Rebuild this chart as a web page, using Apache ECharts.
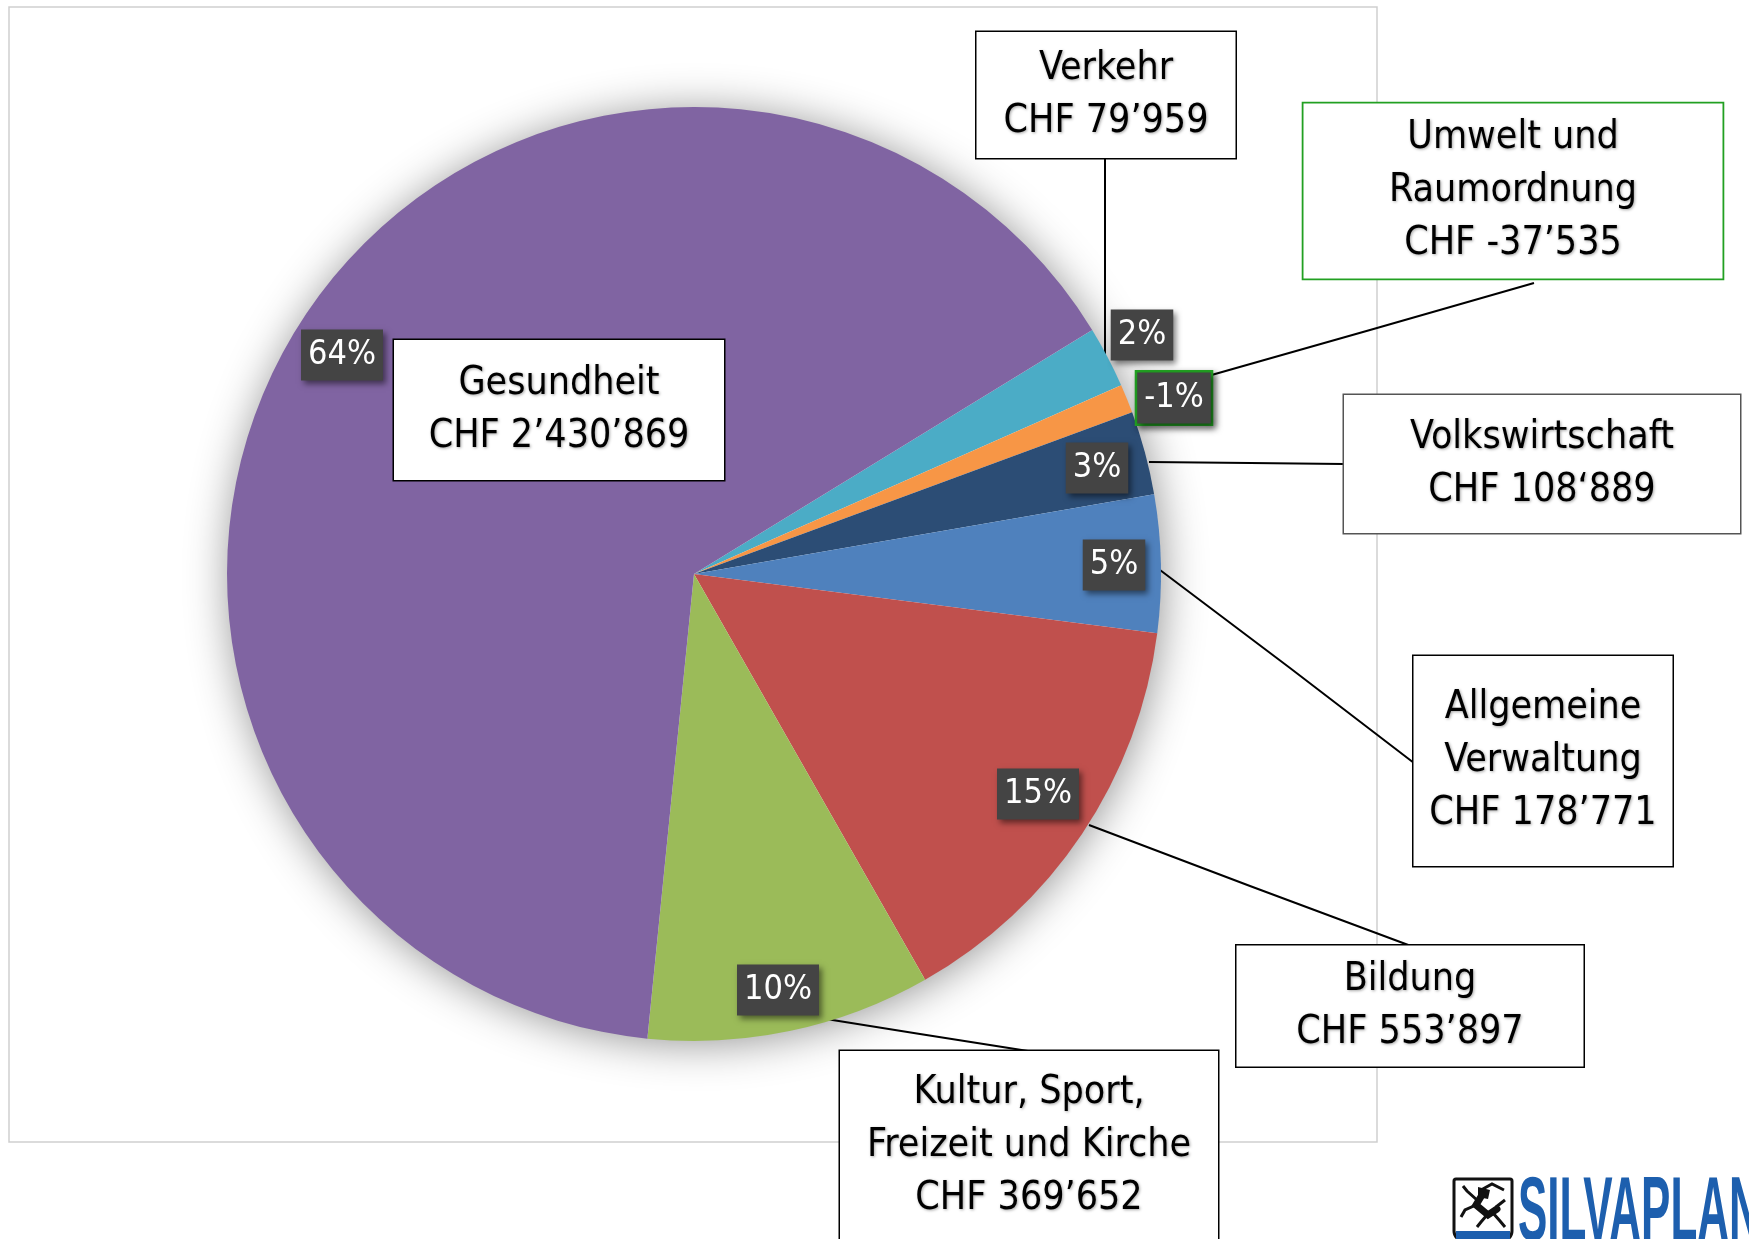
<!DOCTYPE html>
<html><head><meta charset="utf-8">
<script src="https://cdn.jsdelivr.net/npm/echarts@6/dist/echarts.min.js"></script>
<style>html,body{margin:0;padding:0;background:#fff}#c{width:1749px;height:1239px}</style>
</head><body><div id="c"></div>
<script>
// ---- data ----
var categories = ['Verkehr', 'Umwelt und\nRaumordnung', 'Volkswirtschaft', 'Allgemeine\nVerwaltung', 'Bildung', 'Kultur, Sport,\nFreizeit und Kirche', 'Gesundheit'];
var amounts = [79959, -37535, 108889, 178771, 553897, 369652, 2430869];
var amountLabels = ['CHF 79’959', 'CHF -37’535', 'CHF 108‘889', 'CHF 178’771', 'CHF 553’897', 'CHF 369’652', 'CHF 2’430’869'];
var percentLabels = ['2%', '-1%', '3%', '5%', '15%', '10%', '64%'];

// ---- styles / layout ----
var colors = ['#4BACC6', '#F79646', '#2C4D75', '#4F81BD', '#C0504D', '#9BBB59', '#8064A2'];
var FONT = "'Liberation Sans Narrow','Arial Narrow','DejaVu Sans Condensed',sans-serif";
var LINE_H = 53;
var nameBoxes = [
  {cx: 1106, cy: 95, w: 259, h: 126, n: 2, dy: 6, border: '#000', line: [[1105, 355], [1105, 300], [1105, 158]]},
  {cx: 1513, cy: 191, w: 419, h: 175, n: 3, dy: 8, border: '#22A022', line: [[1208, 376], [1370, 330], [1534, 283]]},
  {cx: 1542, cy: 464, w: 396, h: 138, n: 2, dy: 2, border: '#555', line: [[1149, 462], [1250, 463], [1344, 464]]},
  {cx: 1543, cy: 761, w: 259, h: 210, n: 3, dy: -7, border: '#000', line: [[1160, 570], [1290, 668], [1414, 763]]},
  {cx: 1410, cy: 1006, w: 347, h: 121, n: 2, dy: 9, border: '#000', line: [[1089, 825], [1250, 886], [1411, 946]]},
  {cx: 1029, cy: 1146, w: 378, h: 190, n: 3, dy: 3, border: '#000', line: [[820, 1018], [920, 1034], [1028, 1051]]},
  {cx: 559, cy: 410, w: 330, h: 140, n: 2, dy: 0, border: '#000', line: null}
];
var pctBoxes = [[1142, 335], [1174, 398], [1097, 468], [1114, 565], [1038, 794], [778, 990], [342, 355]];
var CENTER = [694, 574], RADIUS = 467, START = 31.5;

var chart = echarts.init(document.getElementById('c'), null, {renderer: 'canvas'});

var nameData = categories.map(function (c, i) {
  var b = nameBoxes[i];
  var pv = Math.max(0, (b.h - b.n * LINE_H) / 2);
  return {
    name: c,
    value: Math.abs(amounts[i]),
    itemStyle: {color: colors[i]},
    label: {width: b.w, padding: [pv + b.dy, 0, pv - b.dy, 0], borderColor: b.border, borderWidth: b.border === '#22A022' ? 1.8 : 1.5},
    labelLine: {show: !!b.line}
  };
});
var pctData = categories.map(function (c, i) {
  var d = {name: c, value: Math.abs(amounts[i]), itemStyle: {color: 'rgba(0,0,0,0)'}};
  if (amounts[i] < 0) d.label = {borderColor: '#22A022', borderWidth: 2.5};
  return d;
});

chart.setOption({
  animation: false,
  backgroundColor: '#fff',
  graphic: [
    {type: 'rect', z: 0, shape: {x: 9, y: 7, width: 1368, height: 1135}, style: {fill: 'none', stroke: '#cfcfcf', lineWidth: 1.5}},
    {type: 'circle', z: 1, shape: {cx: CENTER[0], cy: CENTER[1], r: RADIUS - 2}, style: {fill: '#fff', shadowBlur: 45, shadowColor: 'rgba(0,0,0,0.45)', shadowOffsetX: 2, shadowOffsetY: 3}},
    // logo
    {type: 'group', z: 5, children: [
      {type: 'rect', shape: {x: 1454, y: 1179, width: 58, height: 62, r: [2, 2, 10, 10]}, style: {fill: '#fff', stroke: '#111', lineWidth: 3}},
      {type: 'rect', shape: {x: 1456, y: 1231, width: 54, height: 8}, style: {fill: '#1d5fae'}},
      {type: 'polyline', shape: {points: [[1481, 1190], [1492, 1184], [1504, 1190]]}, style: {stroke: '#111', lineWidth: 3, fill: 'none'}},
      {type: 'polygon', shape: {points: [[1478, 1187], [1490, 1190], [1488, 1199], [1478, 1197]]}, style: {fill: '#111'}},
      {type: 'polyline', shape: {points: [[1482, 1195], [1476, 1205], [1488, 1215], [1497, 1209]]}, style: {stroke: '#111', lineWidth: 7, fill: 'none', lineCap: 'round'}},
      {type: 'polyline', shape: {points: [[1477, 1200], [1467, 1191], [1463, 1186]]}, style: {stroke: '#111', lineWidth: 3, fill: 'none'}},
      {type: 'polyline', shape: {points: [[1476, 1205], [1465, 1210], [1461, 1217]]}, style: {stroke: '#111', lineWidth: 3, fill: 'none'}},
      {type: 'polyline', shape: {points: [[1487, 1215], [1481, 1222], [1477, 1227]]}, style: {stroke: '#111', lineWidth: 3, fill: 'none'}},
      {type: 'polyline', shape: {points: [[1493, 1213], [1500, 1221], [1505, 1227]]}, style: {stroke: '#111', lineWidth: 3, fill: 'none'}},
      {type: 'polyline', shape: {points: [[1496, 1207], [1505, 1200]]}, style: {stroke: '#111', lineWidth: 3, fill: 'none'}},
      {type: 'text', x: 1518, y: 1170, scaleX: 0.88, scaleY: 1.8, style: {text: 'SILVAPLANA', font: "bold 50px 'Liberation Sans Narrow','Arial Narrow',sans-serif", fill: '#1d5fae', textVerticalAlign: 'top'}}
    ]}
  ],
  series: [
    {
      type: 'pie', z: 2, center: CENTER, radius: RADIUS, startAngle: START, clockwise: true,
      silent: true, avoidLabelOverlap: false, minShowLabelAngle: 0,
      itemStyle: {borderWidth: 0},
      emphasis: {disabled: true},
      label: {
        show: true, position: 'outside', fontFamily: FONT, fontSize: 39, lineHeight: LINE_H, color: '#000',
        align: 'center', backgroundColor: '#fff',
        textShadowColor: 'rgba(0,0,0,0.35)', textShadowBlur: 3, textShadowOffsetX: 1, textShadowOffsetY: 1,
        formatter: function (p) { return p.name + '\n' + amountLabels[p.dataIndex]; }
      },
      labelLine: {show: true, length: 10, length2: 10, lineStyle: {color: '#000', width: 2}},
      labelLayout: function (p) {
        var b = nameBoxes[p.dataIndex];
        var o = {x: b.cx, y: b.cy, align: 'center', verticalAlign: 'middle'};
        if (b.line) o.labelLinePoints = b.line;
        return o;
      },
      data: nameData
    },
    {
      type: 'pie', z: 3, center: CENTER, radius: RADIUS, startAngle: START, clockwise: true,
      silent: true, avoidLabelOverlap: false, minShowLabelAngle: 0,
      itemStyle: {borderWidth: 0},
      emphasis: {disabled: true},
      label: {
        show: true, position: 'inside', fontFamily: FONT, fontSize: 34, lineHeight: 39, color: '#fff',
        backgroundColor: '#444', padding: [6, 7, 6, 7],
        shadowColor: 'rgba(0,0,0,0.5)', shadowBlur: 6, shadowOffsetX: 3, shadowOffsetY: 3,
        formatter: function (p) { return percentLabels[p.dataIndex]; }
      },
      labelLine: {show: false},
      labelLayout: function (p) {
        var c = pctBoxes[p.dataIndex];
        return {x: c[0], y: c[1], align: 'center', verticalAlign: 'middle'};
      },
      data: pctData
    }
  ]
});
</script>
</body></html>
